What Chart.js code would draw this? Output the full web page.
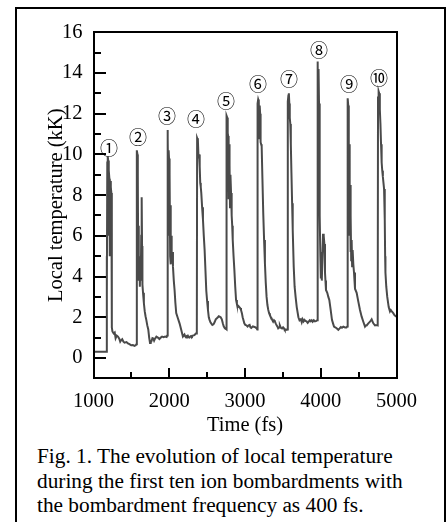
<!DOCTYPE html>
<html>
<head>
<meta charset="utf-8">
<script src="https://cdn.jsdelivr.net/npm/chart.js@4.4.0/dist/chart.umd.min.js"></script>
<style>
  html, body { margin: 0; padding: 0; background: #fff; }
  body { width: 447px; height: 522px; overflow: hidden; position: relative; }
  #frame { position: absolute; left: 15px; top: 7px; width: 427px; height: 600px; border: 2px solid #000; }
  #chart { position: absolute; left: 0; top: 0; }
  #caption { position: absolute; left: 37px; top: 444px; font-family: "Liberation Serif", "Times New Roman", serif;
             font-size: 21.3px; line-height: 24.5px; color: #000; white-space: nowrap; }
</style>
</head>
<body>
<div id="frame"></div>
<canvas id="chart" width="447" height="440"></canvas>
<div id="caption">Fig. 1. The evolution of local temperature<br>during the first ten ion bombardments with<br>the bombardment frequency as 400 fs.</div>
<script>
// Tiempo (fs) y temperatura local (kK), un bloque por bombardeo
const timeFs = [
  1000,1172,1174,1178,1182,1188,1194,1199,1204,1210,1215,1220,1226,1231,1236,1240,1244,1250,1266,1280,1292,1307,1323,1340,1353,1367,1379,1395,1410,1435,1454,1475,1497,1520,1541,1558,
  1566,1570,1574,1580,1585,1590,1595,1600,1606,1612,1618,1624,1630,1636,1641,1646,1654,1665,1676,1687,1697,1710,1723,1735,1746,1755,1763,1778,1790,1800,1812,1830,1850,1870,1888,1905,1925,1945,1965,
  1974,1977,1982,1987,1992,1997,2002,2007,2012,2017,2022,2027,2032,2041,2049,2060,2071,2081,2092,2114,2136,2158,2180,2190,2201,2212,2223,2234,2245,2256,2267,2278,2289,2300,2311,2332,2351,
  2364,2368,2378,2387,2394,2402,2409,2416,2423,2434,2445,2456,2467,2478,2489,2500,2511,2522,2532,2544,2554,2569,2584,2598,2614,2629,2642,2654,2664,2679,2694,2707,2719,2734,2750,
  2754,2759,2766,2772,2778,2784,2790,2796,2802,2808,2816,2824,2831,2838,2849,2860,2871,2882,2893,2904,2914,2925,2936,2947,2959,2969,2980,2991,3004,3019,3034,3049,3061,3072,3083,3104,3126,3139,3155,
  3162,3166,3174,3182,3188,3194,3200,3206,3213,3220,3230,3241,3252,3263,3274,3285,3296,3307,3318,3329,3340,3351,3362,3372,3383,3394,3405,3416,3427,3438,3450,3460,3471,3482,3493,3503,3515,3525,3540,3553,
  3561,3565,3573,3579,3585,3591,3598,3605,3613,3622,3630,3643,3655,3668,3683,3705,3720,3737,3749,3761,3773,3785,3798,3813,3828,3841,3855,3868,3881,3893,3908,3923,3943,
  3954,3957,3962,3966,3971,3977,3983,3989,3995,4001,4008,4014,4022,4030,4036,4042,4048,4056,4062,4069,4086,4100,4113,4131,4148,4162,4175,4192,4210,4232,4250,4265,4280,4298,4320,4340,
  4350,4353,4358,4363,4368,4372,4377,4382,4387,4392,4397,4402,4408,4414,4421,4430,4439,4452,4474,4496,4518,4540,4562,4584,4595,4606,4628,4650,4672,4683,4694,4716,4738,
  4752,4756,4764,4772,4780,4788,4796,4804,4812,4820,4828,4836,4843,4847,4850,4854,4865,4878,4897,4914,4925,4935,4957,4975,5000
];
const tempKK = [
  0.3,0.3,5.0,3.0,9.6,9.9,9.7,6.0,9.2,8.8,5.0,8.7,6.0,8.4,8.1,4.5,1.5,1.3,1.2,1.25,0.97,1.1,1.05,0.95,0.8,0.88,0.92,0.8,0.75,0.78,0.72,0.68,0.62,0.63,0.59,0.62,
  0.67,0.7,10.2,10.0,9.0,4.5,6.5,3.8,5.0,3.5,4.6,3.8,6.0,7.9,5.5,3.6,3.2,2.7,2.3,2.05,1.87,1.6,1.4,1.0,0.74,0.78,0.8,0.97,0.95,0.85,0.95,1.05,1.0,0.93,1.0,1.05,1.02,1.05,1.03,
  1.1,11.2,10.8,8.0,10.2,9.8,6.0,9.0,5.0,7.5,4.6,6.0,4.8,5.2,4.5,3.8,3.3,2.7,2.2,1.95,1.7,1.38,1.05,1.1,1.15,1.05,1.0,1.08,1.1,1.02,1.0,1.05,1.08,1.05,1.1,1.12,1.2,
  1.2,10.8,10.7,9.8,10.0,9.4,8.6,8.4,8.1,7.4,6.8,6.0,5.3,4.3,3.3,2.8,2.36,2.0,1.87,1.75,1.7,1.62,1.65,1.75,1.9,1.95,2.0,2.05,2.03,2.0,1.9,1.7,1.55,1.46,1.42,
  1.4,11.9,11.8,11.05,10.9,7.8,10.5,9.5,7.4,9.0,8.1,7.0,6.5,5.8,5.0,4.3,3.5,2.85,2.65,2.5,2.55,2.5,2.45,2.36,2.2,2.0,1.85,1.7,1.62,1.6,1.54,1.6,1.62,1.5,1.47,1.55,1.52,1.5,1.45,
  1.4,12.5,12.7,12.6,10.8,12.4,12.0,10.6,10.5,10.4,8.8,7.1,5.8,4.65,3.7,3.0,2.6,2.36,2.2,2.1,2.0,1.95,1.85,1.78,1.85,1.8,1.7,1.62,1.55,1.46,1.5,1.6,1.5,1.46,1.45,1.5,1.45,1.38,1.4,1.38,
  1.4,12.6,12.9,13.0,12.5,11.8,11.5,10.5,9.1,7.6,6.3,4.5,3.5,3.0,2.5,2.0,1.85,1.9,1.75,1.9,1.8,1.87,1.82,1.8,1.72,1.78,1.85,1.8,1.85,1.78,1.85,1.8,1.82,
  1.85,14.3,14.56,7.9,14.2,12.5,9.5,7.0,5.0,3.9,5.2,3.8,5.0,6.1,5.2,6.0,5.6,4.2,3.8,3.34,3.2,3.0,2.85,2.36,1.87,1.7,1.54,1.5,1.46,1.38,1.45,1.52,1.48,1.54,1.5,1.5,
  1.55,12.6,12.76,12.4,11.5,7.0,10.5,6.0,8.5,5.2,7.0,4.8,5.8,4.5,5.3,4.6,4.2,3.4,3.2,2.77,2.36,2.03,1.78,1.54,1.6,1.6,1.7,1.78,1.9,1.8,1.7,1.6,1.62,
  1.6,12.8,13.1,13.0,12.2,11.5,10.5,9.6,9.2,8.9,8.6,8.3,8.2,6.8,5.0,4.2,3.5,3.0,2.5,2.28,2.35,2.3,2.2,2.1,2.03
];

// Etiquetas de cada bombardeo (posición en coordenadas de datos)
const labelTexts = ['①','②','③','④','⑤','⑥','⑦','⑧','⑨','⑩'];
const labelTimes = [1205, 1587, 1970, 2353, 2749, 3171, 3581, 3977, 4373, 4769];
const labelTemps = [10.29, 10.83, 11.86, 11.71, 12.64, 13.43, 13.68, 15.1, 13.43, 13.77];

// Marcas de los ejes
const xTickValues = [1000, 2000, 3000, 4000, 5000];
const xMinorTicks = [1500, 2500, 3500, 4500];
const yTickValues = [0, 2, 4, 6, 8, 10, 12, 14, 16];
const yMinorTicks = [1, 3, 5, 7, 9, 11, 13, 15];

const serif = '"Liberation Serif", "Times New Roman", serif';

// Marco del gráfico y marcas hacia dentro
const frameTicks = {
  id: 'frameTicks',
  afterDraw(chart) {
    const ctx = chart.ctx;
    const a = chart.chartArea;
    const x = chart.scales.x;
    const y = chart.scales.y;
    const l = Math.round(a.left), r = Math.round(a.right), t = Math.round(a.top), b = Math.round(a.bottom);
    ctx.save();
    ctx.strokeStyle = '#000';
    ctx.lineWidth = 2;
    ctx.beginPath();
    ctx.moveTo(l, t); ctx.lineTo(r, t); ctx.lineTo(r, b); ctx.lineTo(l, b); ctx.closePath();
    yTickValues.forEach(v => { const p = Math.round(y.getPixelForValue(v)); ctx.moveTo(l, p); ctx.lineTo(l + 12, p); });
    yMinorTicks.forEach(v => { const p = Math.round(y.getPixelForValue(v)); ctx.moveTo(l, p); ctx.lineTo(l + 7, p); });
    xTickValues.forEach(v => { const p = Math.round(x.getPixelForValue(v)); ctx.moveTo(p, b); ctx.lineTo(p, b - 10); });
    xMinorTicks.forEach(v => { const p = Math.round(x.getPixelForValue(v)); ctx.moveTo(p, b); ctx.lineTo(p, b - 6); });
    ctx.stroke();
    ctx.restore();
  }
};

// Números en círculo sobre cada pico
const peakLabels = {
  id: 'peakLabels',
  afterDraw(chart) {
    const ctx = chart.ctx;
    const x = chart.scales.x;
    const y = chart.scales.y;
    ctx.save();
    ctx.fillStyle = '#000';
    ctx.font = '18px "Noto Sans CJK JP", "DejaVu Sans", sans-serif';
    ctx.textAlign = 'center';
    ctx.textBaseline = 'middle';
    labelTexts.forEach((txt, i) => {
      ctx.fillText(txt, x.getPixelForValue(labelTimes[i]), y.getPixelForValue(labelTemps[i]));
    });
    ctx.restore();
  }
};

new Chart(document.getElementById('chart'), {
  type: 'line',
  data: {
    datasets: [{
      data: timeFs.map((t, i) => ({ x: t, y: tempKK[i] })),
      borderColor: '#4a4a4a',
      borderWidth: 2,
      pointRadius: 0,
      tension: 0
    }]
  },
  options: {
    responsive: false,
    animation: false,
    events: [],
    layout: { padding: { top: 32.3, right: 50.5, bottom: 0, left: 0 } },
    plugins: { legend: { display: false }, tooltip: { enabled: false } },
    scales: {
      x: {
        type: 'linear',
        min: 1000,
        max: 5000,
        afterFit: s => { s.height = 61.7; },
        afterBuildTicks: s => { s.ticks = xTickValues.map(v => ({ value: v })); },
        grid: { display: false, drawTicks: false },
        border: { display: false },
        ticks: { padding: 11, color: '#000', font: { family: serif, size: 20.5 }, maxRotation: 0, callback: v => String(v) },
        title: { display: true, text: 'Time (fs)', color: '#000', font: { family: serif, size: 20.5 }, padding: { top: 0, bottom: 2 } }
      },
      y: {
        min: -1,
        max: 16,
        afterFit: s => { s.width = 93.5; },
        afterBuildTicks: s => { s.ticks = yTickValues.map(v => ({ value: v })); },
        grid: { display: false, drawTicks: false },
        border: { display: false },
        ticks: { padding: 11, color: '#000', font: { family: serif, size: 20.5 } },
        title: { display: true, text: 'Local temperature (kK)', color: '#000', font: { family: serif, size: 20.5 }, padding: { top: 44, bottom: 0 } }
      }
    }
  },
  plugins: [frameTicks, peakLabels]
});
</script>
</body>
</html>
